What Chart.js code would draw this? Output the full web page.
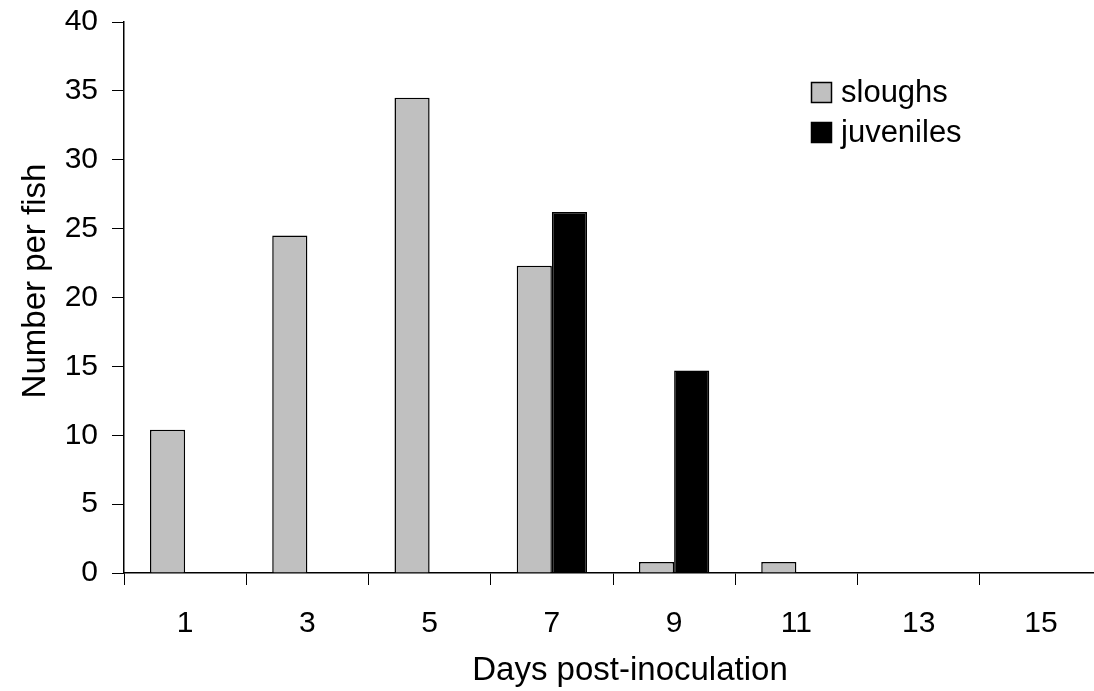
<!DOCTYPE html>
<html>
<head>
<meta charset="utf-8">
<script src="https://cdn.jsdelivr.net/npm/chart.js@4.4.0/dist/chart.umd.min.js"></script>
<style>
	html, body { margin: 0; padding: 0; background: #fff; overflow: hidden; }
	#wrap { width: 1106px; height: 691px; position: relative; }
</style>
</head>
<body>
<div id="wrap"><canvas id="mycanvas"></canvas></div>
<script>
var days = ['1', '3', '5', '7', '9', '11', '13', '15'];
var sloughs = [10.4, 24.5, 34.5, 22.3, 0.8, 0.8, 0, 0];
var juveniles = [0, 0, 0, 26.2, 14.7, 0, 0, 0];
var xTitle = 'Days post-inoculation';
var yTitle = 'Number per fish';

var FONT = "'Liberation Sans', Arial, sans-serif";

// legend inside the plot (top right) and the two axis titles
var extras = {
	id: 'extras',
	afterDraw: function(chart) {
		var ctx = chart.ctx;
		ctx.save();
		ctx.font = '31px ' + FONT;
		ctx.textBaseline = 'middle';
		chart.data.datasets.forEach(function(ds, i) {
			var y = 82 + i * 40;
			ctx.fillStyle = ds.backgroundColor;
			ctx.fillRect(811, y, 20, 20);
			ctx.strokeStyle = '#000';
			ctx.lineWidth = 1.5;
			ctx.strokeRect(811.5, y + 0.5, 20, 20);
			ctx.fillStyle = '#000';
			ctx.fillText(ds.label, 841, y + 11);
		});

		ctx.font = '33px ' + FONT;
		ctx.textAlign = 'center';
		ctx.textBaseline = 'alphabetic';
		ctx.fillText(xTitle, 630, 680);

		ctx.translate(45, 281);
		ctx.rotate(-Math.PI / 2);
		ctx.fillText(yTitle, 0, 0);
		ctx.restore();
	}
};

var chartdata = {
	labels: days,
	datasets: [
		{
			label: 'sloughs',
			backgroundColor: '#c0c0c0',
			borderColor: '#000',
			borderWidth: 1.5,
			data: sloughs
		},
		{
			label: 'juveniles',
			backgroundColor: '#000',
			borderColor: '#000',
			borderWidth: 1.5,
			data: juveniles
		}
	]
};

var ctx = document.getElementById('mycanvas');

var barGraph = new Chart(ctx, {
	type: 'bar',
	data: chartdata,
	plugins: [extras],
	options: {
		responsive: true,
		maintainAspectRatio: false,
		animation: false,
		layout: { padding: { top: 22, right: 4, left: 0, bottom: 0 } },
		datasets: { bar: { categoryPercentage: 0.575, barPercentage: 1.0 } },
		plugins: {
			legend: { display: false },
			tooltip: { enabled: false }
		},
		scales: {
			x: {
				grid: { drawOnChartArea: false, offset: true, color: '#000', tickLength: 12, tickColor: '#000' },
				border: { color: '#000', width: 1.5 },
				ticks: { color: '#000', font: { family: FONT, size: 30 }, padding: 21 },
				afterFit: function(scale) { scale.height = 691 - 573; }
			},
			y: {
				min: 0,
				max: 40,
				grid: { drawOnChartArea: false, color: '#000', tickLength: 12, tickColor: '#000' },
				border: { color: '#000', width: 1.5 },
				ticks: { stepSize: 5, color: '#000', font: { family: FONT, size: 30 }, padding: 14 },
				afterFit: function(scale) {
					scale.width = 124;
					scale.paddingTop = 0;
					scale.paddingBottom = 0;
				}
			}
		}
	}
});
</script>
</body>
</html>
